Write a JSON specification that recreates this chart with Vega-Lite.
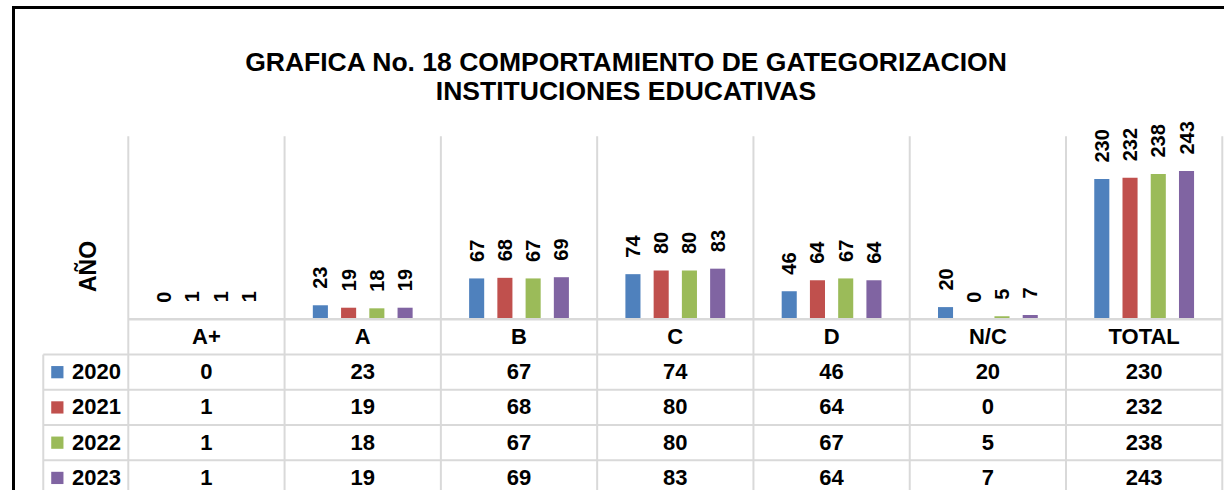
{
  "$schema": "https://vega.github.io/schema/vega-lite/v6.json",
  "autosize": {"type": "none"},
  "padding": {"left": 13.5, "top": 7.5, "right": 0, "bottom": 0},
  "width": 1225,
  "height": 500,
  "background": "white",
  "config": {"view": {"stroke": "black", "strokeWidth": 3}, "font": "Liberation Sans"},
  "title": {
    "text": ["GRAFICA No. 18 COMPORTAMIENTO DE GATEGORIZACION", "INSTITUCIONES EDUCATIVAS"],
    "font": "Liberation Sans",
    "fontSize": 26.5,
    "fontWeight": "bold",
    "color": "black",
    "lineHeight": 29,
    "anchor": "middle",
    "frame": "group",
    "offset": -98
  },
  "datasets": {
    "d": [
      {"cat": "A+", "year": "2020", "value": 0},
      {"cat": "A+", "year": "2021", "value": 1},
      {"cat": "A+", "year": "2022", "value": 1},
      {"cat": "A+", "year": "2023", "value": 1},
      {"cat": "A", "year": "2020", "value": 23},
      {"cat": "A", "year": "2021", "value": 19},
      {"cat": "A", "year": "2022", "value": 18},
      {"cat": "A", "year": "2023", "value": 19},
      {"cat": "B", "year": "2020", "value": 67},
      {"cat": "B", "year": "2021", "value": 68},
      {"cat": "B", "year": "2022", "value": 67},
      {"cat": "B", "year": "2023", "value": 69},
      {"cat": "C", "year": "2020", "value": 74},
      {"cat": "C", "year": "2021", "value": 80},
      {"cat": "C", "year": "2022", "value": 80},
      {"cat": "C", "year": "2023", "value": 83},
      {"cat": "D", "year": "2020", "value": 46},
      {"cat": "D", "year": "2021", "value": 64},
      {"cat": "D", "year": "2022", "value": 67},
      {"cat": "D", "year": "2023", "value": 64},
      {"cat": "N/C", "year": "2020", "value": 20},
      {"cat": "N/C", "year": "2021", "value": 0},
      {"cat": "N/C", "year": "2022", "value": 5},
      {"cat": "N/C", "year": "2023", "value": 7},
      {"cat": "TOTAL", "year": "2020", "value": 230},
      {"cat": "TOTAL", "year": "2021", "value": 232},
      {"cat": "TOTAL", "year": "2022", "value": 238},
      {"cat": "TOTAL", "year": "2023", "value": 243}
    ],
    "cats": [{"cat": "A+"}, {"cat": "A"}, {"cat": "B"}, {"cat": "C"}, {"cat": "D"}, {"cat": "N/C"}, {"cat": "TOTAL"}],
    "years": [{"year": "2020"}, {"year": "2021"}, {"year": "2022"}, {"year": "2023"}]
  },
  "layer": [
    {
      "layer": [
        {
          "data": {"name": "cats"},
          "mark": {"type": "rule", "color": "#D9D9D9", "strokeWidth": 2},
          "encoding": {
            "x": {"field": "cat", "type": "nominal", "bandPosition": 0,
                  "scale": {"domain": ["A+", "A", "B", "C", "D", "N/C", "TOTAL"], "range": [114.8, 1208.8], "paddingInner": 0, "paddingOuter": 0},
                  "axis": null},
            "y": {"datum": 300, "type": "quantitative",
                  "scale": {"domain": [0, 300], "range": [311.8, 128.8], "nice": false, "zero": false},
                  "axis": {"title": "AÑO", "labels": false, "ticks": false, "domain": false, "grid": false,
                           "titleFont": "Liberation Sans", "titleFontSize": 23, "titleFontWeight": "bold", "titleColor": "black",
                           "titleAngle": 270, "titleX": 75, "titleY": 258.5, "titleAlign": "center", "titleBaseline": "middle"}},
            "y2": {"datum": -300}
          }
        },
        {
          "data": {"name": "cats"},
          "transform": [{"filter": "datum.cat === 'TOTAL'"}],
          "mark": {"type": "rule", "color": "#D9D9D9", "strokeWidth": 2},
          "encoding": {
            "x": {"field": "cat", "type": "nominal", "bandPosition": 1},
            "y": {"datum": 300, "type": "quantitative"},
            "y2": {"datum": -300}
          }
        },
        {
          "data": {"name": "d"},
          "mark": {"type": "bar"},
          "encoding": {
            "x": {"field": "cat", "type": "nominal"},
            "xOffset": {"field": "year", "type": "nominal", "scale": {"paddingInner": 0.466, "paddingOuter": 1.15}},
            "y": {"field": "value", "type": "quantitative"},
            "color": {"field": "year", "type": "nominal",
                      "scale": {"domain": ["2020", "2021", "2022", "2023"], "range": ["#4F81BD", "#C0504D", "#9BBB59", "#8064A2"]},
                      "legend": null}
          }
        },
        {
          "data": {"name": "d"},
          "mark": {"type": "text", "angle": 270, "align": "left", "baseline": "middle", "dx": 16.5, "dy": 1,
                   "font": "Liberation Sans", "fontSize": 20, "fontWeight": "bold", "color": "black"},
          "encoding": {
            "x": {"field": "cat", "type": "nominal"},
            "xOffset": {"field": "year", "type": "nominal"},
            "y": {"field": "value", "type": "quantitative"},
            "text": {"field": "value", "type": "quantitative"}
          }
        }
      ]
    },
    {
      "layer": [
        {
          "data": {"name": "years"},
          "mark": {"type": "rule", "color": "#D9D9D9", "strokeWidth": 2},
          "encoding": {
            "y": {"field": "year", "type": "nominal", "bandPosition": 0,
                  "scale": {"domain": ["hdr", "2020", "2021", "2022", "2023"], "range": [311.8, 488.05], "paddingInner": 0, "paddingOuter": 0},
                  "axis": null},
            "x": {"datum": "A+", "type": "nominal", "bandPosition": -0.544},
            "x2": {"datum": "TOTAL", "bandPosition": 1}
          }
        },
        {
          "data": {"name": "cats"},
          "transform": [{"filter": "datum.cat === 'TOTAL'"}],
          "mark": {"type": "rule", "color": "#D9D9D9", "strokeWidth": 2.5},
          "encoding": {
            "y": {"datum": "hdr", "type": "nominal", "bandPosition": 0},
            "x": {"datum": "A+", "type": "nominal", "bandPosition": 0},
            "x2": {"datum": "TOTAL", "bandPosition": 1}
          }
        },
        {
          "data": {"name": "cats"},
          "transform": [{"filter": "datum.cat === 'TOTAL'"}],
          "mark": {"type": "rule", "color": "#D9D9D9", "strokeWidth": 2},
          "encoding": {
            "x": {"datum": "A+", "type": "nominal", "bandPosition": -0.544},
            "y": {"datum": "2020", "type": "nominal", "bandPosition": 0},
            "y2": {"datum": "2023", "bandPosition": 1}
          }
        },
        {
          "data": {"name": "cats"},
          "mark": {"type": "text", "align": "center", "baseline": "middle", "font": "Liberation Sans", "fontSize": 22, "fontWeight": "bold", "color": "black"},
          "encoding": {
            "x": {"field": "cat", "type": "nominal"},
            "y": {"datum": "hdr", "type": "nominal"},
            "text": {"field": "cat", "type": "nominal"}
          }
        },
        {
          "data": {"name": "d"},
          "mark": {"type": "text", "align": "center", "baseline": "middle", "font": "Liberation Sans", "fontSize": 22, "fontWeight": "bold", "color": "black"},
          "encoding": {
            "x": {"field": "cat", "type": "nominal"},
            "y": {"field": "year", "type": "nominal"},
            "text": {"field": "value", "type": "quantitative"}
          }
        },
        {
          "data": {"name": "years"},
          "mark": {"type": "text", "align": "right", "baseline": "middle", "font": "Liberation Sans", "fontSize": 22, "fontWeight": "bold", "color": "black"},
          "encoding": {
            "x": {"datum": "A+", "type": "nominal", "bandPosition": -0.047},
            "y": {"field": "year", "type": "nominal"},
            "text": {"field": "year", "type": "nominal"}
          }
        },
        {
          "data": {"name": "years"},
          "mark": {"type": "point", "shape": "square", "size": 150, "filled": true, "opacity": 1},
          "encoding": {
            "x": {"datum": "A+", "type": "nominal", "bandPosition": -0.454},
            "y": {"field": "year", "type": "nominal"},
            "color": {"field": "year", "type": "nominal", "legend": null}
          }
        }
      ]
    }
  ],
  "resolve": {"scale": {"y": "independent"}, "axis": {"y": "independent"}}
}
